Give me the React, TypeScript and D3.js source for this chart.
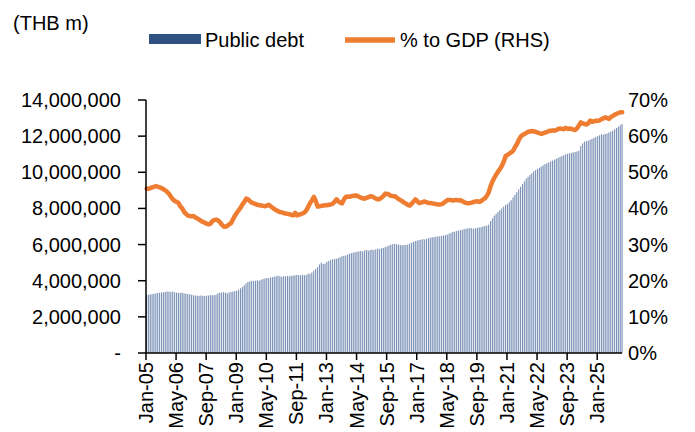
import React from "react";
import * as d3 from "d3";

const debtM = [
3.20,3.22,3.24,3.26,3.28,3.30,3.32,3.34,3.35,3.36,3.38,3.40,
3.39,3.38,3.40,3.36,3.34,3.33,3.32,3.34,3.30,3.28,3.26,3.25,
3.22,3.20,3.18,3.17,3.16,3.18,3.17,3.15,3.18,3.18,3.20,3.19,
3.20,3.22,3.30,3.33,3.35,3.36,3.34,3.30,3.35,3.38,3.40,3.42,
3.45,3.50,3.58,3.65,3.75,3.85,3.93,3.96,4.00,3.98,4.00,4.02,
4.00,4.05,4.10,4.12,4.15,4.14,4.18,4.20,4.22,4.25,4.28,4.24,
4.22,4.25,4.24,4.26,4.25,4.28,4.28,4.30,4.32,4.31,4.30,4.33,
4.30,4.32,4.40,4.38,4.45,4.55,4.65,4.75,4.90,5.00,4.92,4.95,
5.05,5.10,5.15,5.18,5.20,5.22,5.25,5.30,5.35,5.38,5.40,5.45,
5.50,5.52,5.55,5.58,5.60,5.62,5.65,5.62,5.68,5.70,5.66,5.70,
5.72,5.70,5.74,5.78,5.76,5.80,5.82,5.86,5.90,5.95,6.00,6.02,
6.04,6.02,6.00,5.98,5.96,5.98,5.99,6.00,6.05,6.10,6.15,6.20,
6.22,6.25,6.27,6.30,6.28,6.32,6.35,6.38,6.40,6.42,6.44,6.45,
6.46,6.48,6.50,6.52,6.55,6.60,6.65,6.70,6.72,6.75,6.78,6.80,
6.82,6.85,6.88,6.90,6.92,6.90,6.88,6.90,6.92,6.95,6.96,7.00,
7.02,7.05,7.10,7.30,7.45,7.60,7.70,7.80,7.90,8.00,8.10,8.20,
8.25,8.35,8.45,8.60,8.75,8.90,9.05,9.20,9.35,9.50,9.65,9.75,
9.85,9.95,10.05,10.12,10.18,10.25,10.32,10.38,10.45,10.50,10.55,10.60,
10.65,10.70,10.75,10.80,10.85,10.90,10.95,11.00,11.02,11.05,11.08,11.10,
11.12,11.15,11.20,11.45,11.60,11.70,11.72,11.75,11.80,11.85,11.90,11.95,
12.00,12.05,12.10,12.08,12.12,12.15,12.20,12.25,12.30,12.38,12.45,12.52,
12.60,12.67];

const pctGDP = [
45.5,45.4,45.6,45.8,46.0,46.2,46.0,45.8,45.6,45.3,45.0,44.5,
44.0,43.2,42.5,42.0,41.8,41.5,40.5,40.0,39.0,38.5,38.0,37.9,
37.8,37.9,37.5,37.2,36.9,36.5,36.3,36.0,35.8,35.6,35.8,36.5,
36.8,36.9,36.7,36.2,35.5,35.0,34.9,35.2,35.6,36.0,37.0,38.0,
38.8,39.5,40.2,41.1,41.8,42.7,42.5,42.0,41.6,41.4,41.2,41.0,
40.9,40.8,40.7,40.6,40.8,41.0,40.6,40.2,39.8,39.5,39.2,39.0,
38.9,38.7,38.6,38.5,38.4,38.2,38.1,38.8,38.1,38.3,38.4,38.6,
38.9,39.5,40.5,41.5,42.3,43.2,42.0,40.5,40.6,40.7,40.8,40.9,
40.9,41.0,41.1,41.3,41.8,42.5,42.0,41.6,41.4,42.5,43.2,43.3,
43.2,43.4,43.5,43.6,43.5,43.2,43.0,42.8,42.7,42.9,43.1,43.4,
43.3,43.0,42.7,42.5,42.6,43.0,43.5,44.1,44.0,43.8,43.5,43.4,
43.4,43.0,42.6,42.3,42.0,41.6,41.3,41.0,40.8,41.3,41.9,42.5,
42.0,41.5,41.6,41.8,41.9,41.7,41.5,41.5,41.4,41.3,41.2,41.1,
41.1,41.2,41.5,41.9,42.3,42.3,42.3,42.2,42.3,42.3,42.2,42.3,
42.0,41.7,41.5,41.4,41.5,41.6,41.8,41.9,42.0,41.8,42.0,42.5,
42.8,43.5,44.5,46.2,47.5,48.5,49.4,50.2,51.0,51.8,53.0,54.5,
54.8,55.2,55.5,56.0,57.0,57.8,59.0,59.9,60.3,60.6,60.9,61.2,
61.3,61.4,61.3,61.2,61.0,60.8,60.6,60.8,61.0,61.2,61.4,61.5,
61.6,61.5,61.7,62.0,62.1,62.0,61.9,62.3,62.0,62.1,62.0,61.8,
61.7,62.2,63.0,63.8,63.5,63.4,63.2,63.6,64.3,64.0,64.1,64.3,
64.2,64.4,64.7,64.9,65.2,65.0,64.8,65.3,65.6,65.9,66.2,66.4,
66.6,66.6];

const xTickLabels = ["Jan-05","May-06","Sep-07","Jan-09","May-10","Sep-11","Jan-13","May-14","Sep-15","Jan-17","May-18","Sep-19","Jan-21","May-22","Sep-23","Jan-25"];
const leftTicks = [0,2,4,6,8,10,12,14];
const rightTicks = [0,10,20,30,40,50,60,70];

const W = 695, H = 432;
const L = 146, R = 621, T = 100, B = 353;
const font = "Liberation Sans, Arial, sans-serif";
const FS = 20;

export default function App() {
  const step = 1.88;
  const x = (i: number) => L + step * i;
  const y = d3.scaleLinear().domain([0, 14]).range([B, T]);
  const y2 = d3.scaleLinear().domain([0, 70]).range([B, T]);
  const line = d3.line<number>().x((_, i) => x(i) + 0.6).y(d => y2(d));
  const fmt = (v: number) => v === 0 ? "-" : d3.format(",")(v * 1000000);
  return (
    <svg width={W} height={H} style={{ position: "absolute", left: 0, top: 0 }} fontFamily={font}>
      <defs>
        <linearGradient id="bg" x1="0" x2="1" y1="0" y2="0">
          <stop offset="0" stopColor="#4a6898" />
          <stop offset="1" stopColor="#c3cee0" />
        </linearGradient>
      </defs>
      <rect width={W} height={H} fill="#fff" />
      <text x={13} y={30} fontSize={FS}>(THB m)</text>
      <rect x={149} y={34} width={52} height={10} fill="#2f5283" />
      <text x={205} y={47} fontSize={FS}>Public debt</text>
      <line x1={345} x2={395} y1={40} y2={40} stroke="#ee7d31" strokeWidth={5.5} />
      <text x={400} y={47} fontSize={FS}>% to GDP (RHS)</text>
      {debtM.map((v, i) => (
        <rect key={i} x={x(i)} y={y(v)} width={1.25} height={B - y(v)} fill="url(#bg)" />
      ))}
      <path d={line(pctGDP) || ""} fill="none" stroke="#ee7d31" strokeWidth={4.5} strokeLinejoin="round" strokeLinecap="round" />
      <line x1={L} x2={L} y1={T} y2={B} stroke="#000" strokeWidth={1.5} />
      <line x1={L} x2={R + 1} y1={B} y2={B} stroke="#000" strokeWidth={1.5} />
      {leftTicks.map(t => (
        <g key={t}>
          <line x1={L - 8} x2={L} y1={y(t)} y2={y(t)} stroke="#000" strokeWidth={1.5} />
          <text x={121} y={y(t) + 7} fontSize={FS} textAnchor="end">{fmt(t)}</text>
        </g>
      ))}
      {rightTicks.map(t => (
        <text key={t} x={628} y={y2(t) + 7} fontSize={FS}>{t}%</text>
      ))}
      {xTickLabels.map((lab, k) => {
        const xx = x(k * 16);
        return (
          <g key={lab}>
            <line x1={xx} x2={xx} y1={B} y2={B + 7} stroke="#000" strokeWidth={1.5} />
            <text transform={`translate(${xx + 7},${B + 9}) rotate(-90)`} fontSize={FS} textAnchor="end">{lab}</text>
          </g>
        );
      })}
    </svg>
  );
}
